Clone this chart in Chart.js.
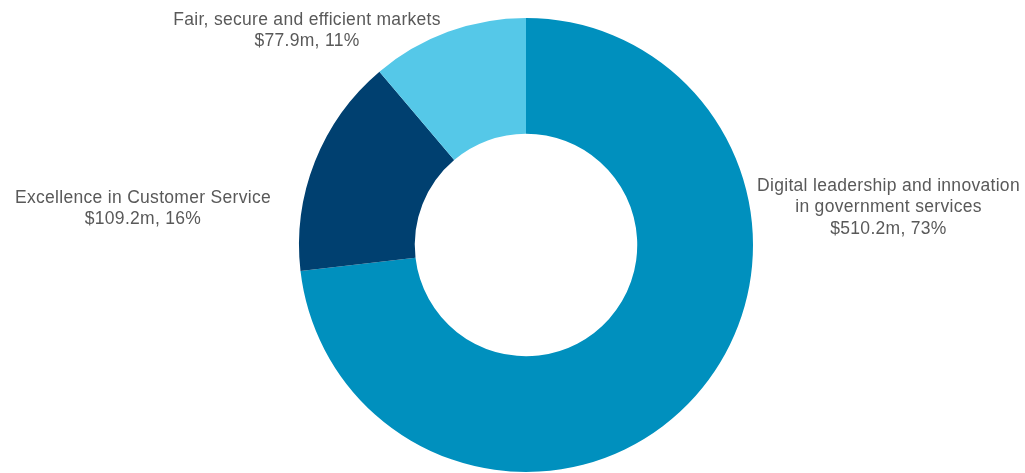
<!DOCTYPE html>
<html>
<head>
<meta charset="utf-8">
<script src="https://cdn.jsdelivr.net/npm/chart.js@4/dist/chart.umd.min.js"></script>
<style>
html,body{margin:0;padding:0;background:#fff;overflow:hidden;}
canvas{display:block;}
</style>
</head>
<body>
<canvas id="c" width="1025" height="473"></canvas>
<script>
const categories = ["Digital leadership and innovation in government services", "Excellence in Customer Service", "Fair, secure and efficient markets"];
const values = [510.2, 109.2, 77.9];
const percents = [73, 16, 11];
const labelLines = [
  ["Digital leadership and innovation", "in government services"],
  ["Excellence in Customer Service"],
  ["Fair, secure and efficient markets"]
];
const colors = ["#0090BE", "#004070", "#55C8E8"];

// label anchor offsets (centre x, first baseline y) from the doughnut centre (px)
const labelOffsets = [[362.5, -54], [-383, -42], [-219, -220]];

const labelPlugin = {
  id: 'sliceLabels',
  afterDraw(chart) {
    const ctx = chart.ctx;
    const meta = chart.getDatasetMeta(0);
    const arc0 = meta.data[0];
    const cx = arc0.x, cy = arc0.y;
    ctx.save();
    ctx.fillStyle = '#595959';
    ctx.font = '17.5px "Liberation Sans", Arial, sans-serif';
    try { ctx.letterSpacing = '0.3px'; } catch(e) {}
    ctx.textAlign = 'center';
    ctx.textBaseline = 'alphabetic';
    const lh = 21.3;
    values.forEach((v, i) => {
      const lines = labelLines[i].concat(['$' + v.toFixed(1) + 'm, ' + percents[i] + '%']);
      const x = cx + labelOffsets[i][0];
      const y = cy + labelOffsets[i][1];
      lines.forEach((t, k) => {
        ctx.fillText(t, x, y + k * lh);
      });
    });
    ctx.restore();
  }
};

new Chart(document.getElementById('c'), {
  type: 'doughnut',
  data: {
    labels: categories,
    datasets: [{
      data: values,
      backgroundColor: colors,
      borderWidth: 0,
      hoverOffset: 0
    }]
  },
  options: {
    responsive: false,
    animation: false,
    cutout: '49%',
    layout: { padding: { top: 18, bottom: 1, left: 27, right: 0 } },
    plugins: {
      legend: { display: false },
      tooltip: { enabled: false }
    }
  },
  plugins: [labelPlugin]
});
</script>
</body>
</html>
